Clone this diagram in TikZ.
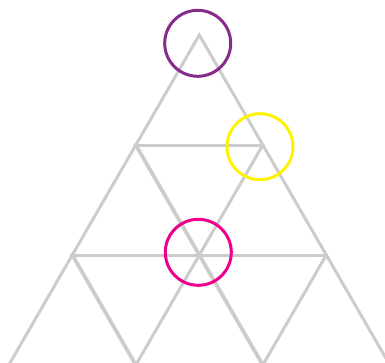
\documentclass[tikz,border=0pt]{standalone}
\usetikzlibrary{calc}
\definecolor{gridgray}{HTML}{CCCCCC}
\definecolor{ringpurple}{HTML}{862A8C}
\definecolor{ringyellow}{HTML}{FFF200}
\definecolor{ringpink}{HTML}{EC008C}

\begin{document}
\begin{tikzpicture}[x=1pt,y=-1pt,
  grid/.style={draw=gridgray,line width=3pt,line cap=rect},
  ring/.style={circle,draw=#1,line width=3pt,minimum size=66pt,inner sep=0pt}]
\useasboundingbox (0,0) rectangle (385,362);
\foreach \r in {0,...,3}{
  \foreach \k in {0,...,\r}{
    \coordinate (v\r\k) at ({199.3+(\k-\r/2)*127},{35+\r*110});
  }
}
% outer sides
\draw[grid] (v30) -- (v00) -- (v33);
% rows
\draw[grid] (v10) -- (v11);
\draw[grid] (v20) -- (v22);
% inner slopes
\draw[grid,line width=3.8pt] (v10) -- (v32);
\draw[grid] (v11) -- (v31);
\draw[grid,line width=3.8pt] (v20) -- (v31);
\draw[grid] (v22) -- (v32);

\node[ring=ringpurple] (top) at (197.7,43.3) {};
\node[ring=ringyellow] (right) at (260,146.7) {};
\node[ring=ringpink] (mid) at (198.3,252.3) {};
\end{tikzpicture}
\end{document}
